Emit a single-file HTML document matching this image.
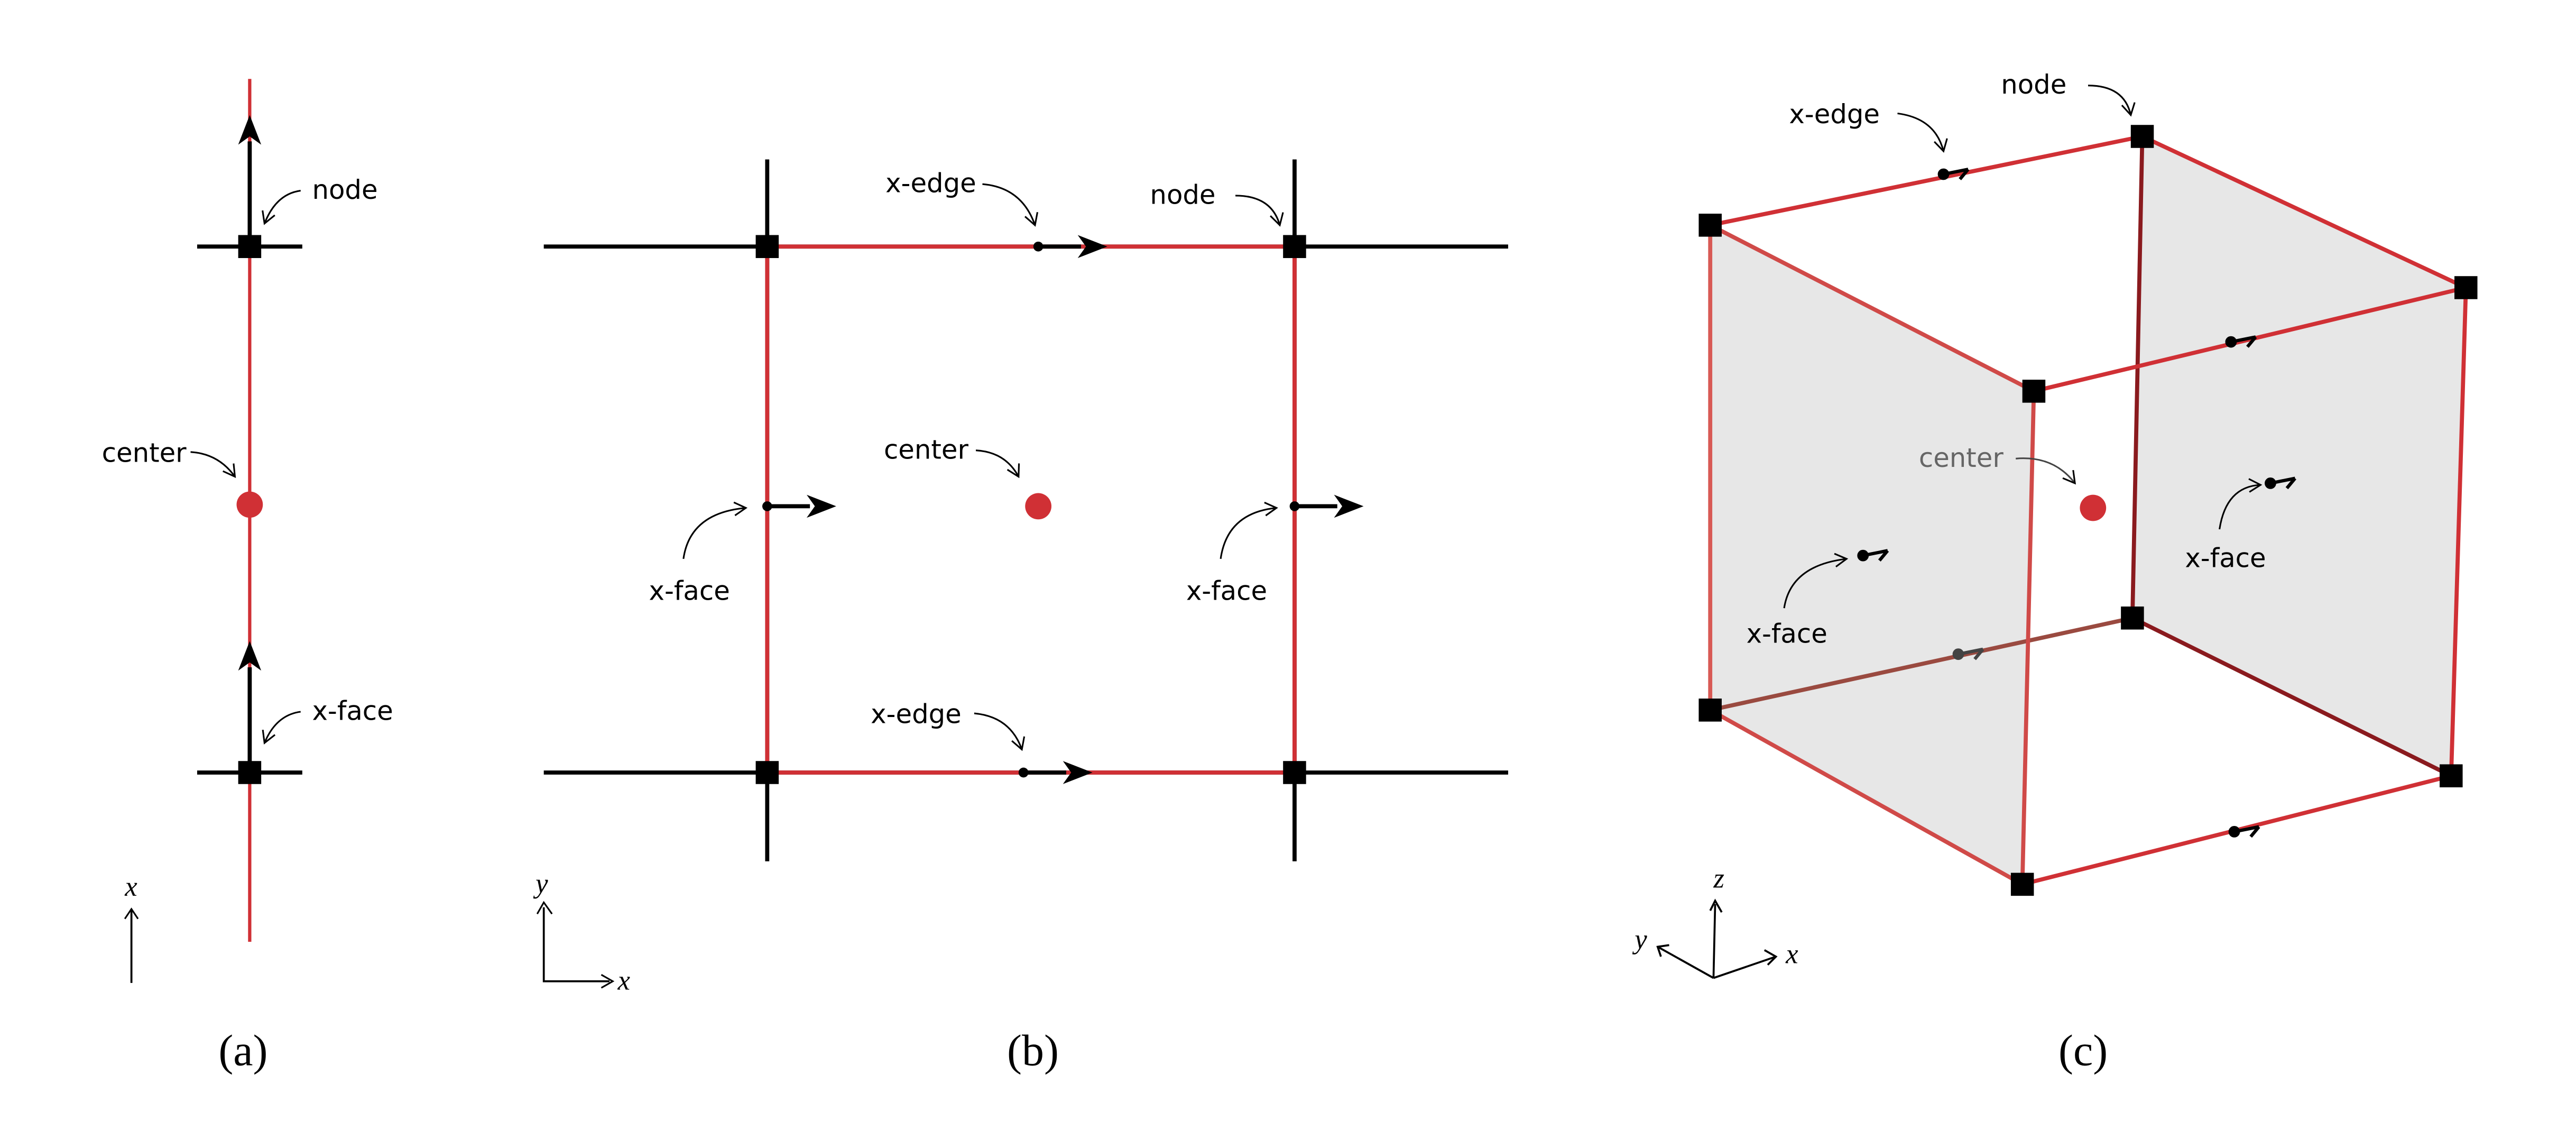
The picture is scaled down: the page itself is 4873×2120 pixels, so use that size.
<!DOCTYPE html>
<html><head><meta charset="utf-8"><style>
html,body{margin:0;padding:0;background:#fff}
svg{display:block}
text{font-family:"DejaVu Sans","Liberation Sans",sans-serif;font-size:16px;fill:#000}
.ser{font-family:"Liberation Serif",serif;font-size:27px}
.it{font-family:"Liberation Serif",serif;font-style:italic;font-size:17px}
</style></head><body>
<svg width="4873" height="2120" viewBox="0 0 1568 682" preserveAspectRatio="none">
<defs>
<marker id="oa" markerWidth="10" markerHeight="10" refX="8" refY="5" orient="auto" markerUnits="userSpaceOnUse"><path d="M1,1 L8,5 L1,9" fill="none" stroke="#000" stroke-width="1"/></marker>
<marker id="fa" markerWidth="20" markerHeight="14" refX="2" refY="7" orient="auto" markerUnits="userSpaceOnUse"><path d="M0,0 L18,7 L0,14 L5,7 Z" fill="#000"/></marker>
<marker id="sa" markerWidth="10" markerHeight="10" refX="8" refY="5" orient="auto" markerUnits="userSpaceOnUse"><path d="M2,1 L8,5 L2,9" fill="none" stroke="#000" stroke-width="1"/></marker>
</defs>

<g>
<line x1="152" y1="48" x2="152" y2="573" stroke="#d03035" stroke-width="2"/>
<line x1="120" y1="150" x2="184" y2="150" stroke="#000" stroke-width="2.5"/>
<line x1="120" y1="470" x2="184" y2="470" stroke="#000" stroke-width="2.5"/>
<line x1="152" y1="150" x2="152" y2="86" stroke="#000" stroke-width="2.5" marker-end="url(#fa)"/>
<line x1="152" y1="470" x2="152" y2="406" stroke="#000" stroke-width="2.5" marker-end="url(#fa)"/>
<rect x="145" y="143" width="14" height="14" fill="#000"/>
<rect x="145" y="463" width="14" height="14" fill="#000"/>
<circle cx="152" cy="307" r="8" fill="#d03035"/>
<text x="190" y="121">node</text>
<path d="M183,116 Q168,118 161,136" fill="none" stroke="#000" stroke-width="1" marker-end="url(#oa)"/>
<text x="62" y="281">center</text>
<path d="M116,275 Q133,276 143,290" fill="none" stroke="#000" stroke-width="1" marker-end="url(#oa)"/>
<text x="190" y="438">x-face</text>
<path d="M183,433 Q168,435 161,452" fill="none" stroke="#000" stroke-width="1" marker-end="url(#oa)"/>
<line x1="80" y1="598" x2="80" y2="553" stroke="#000" stroke-width="1.2" marker-end="url(#sa)"/>
<text class="it" x="76" y="545">x</text>
<text class="ser" x="133" y="648">(a)</text>
</g>

<g>
<line x1="331" y1="150" x2="918" y2="150" stroke="#000" stroke-width="2.5"/>
<line x1="331" y1="470" x2="918" y2="470" stroke="#000" stroke-width="2.5"/>
<line x1="467" y1="97" x2="467" y2="524" stroke="#000" stroke-width="2.5"/>
<line x1="788" y1="97" x2="788" y2="524" stroke="#000" stroke-width="2.5"/>
<rect x="467" y="150" width="321" height="320" fill="none" stroke="#d03035" stroke-width="2.5"/>
<line x1="632" y1="150" x2="658" y2="150" stroke="#000" stroke-width="2.5" marker-end="url(#fa)"/>
<circle cx="632" cy="150" r="3" fill="#000"/>
<line x1="623" y1="470" x2="649" y2="470" stroke="#000" stroke-width="2.5" marker-end="url(#fa)"/>
<circle cx="623" cy="470" r="3" fill="#000"/>
<line x1="467" y1="308" x2="493" y2="308" stroke="#000" stroke-width="2.5" marker-end="url(#fa)"/>
<circle cx="467" cy="308" r="3" fill="#000"/>
<line x1="788" y1="308" x2="814" y2="308" stroke="#000" stroke-width="2.5" marker-end="url(#fa)"/>
<circle cx="788" cy="308" r="3" fill="#000"/>
<g fill="#000"><rect x="460" y="143" width="14" height="14"/><rect x="781" y="143" width="14" height="14"/><rect x="460" y="463" width="14" height="14"/><rect x="781" y="463" width="14" height="14"/></g>
<circle cx="632" cy="308" r="8" fill="#d03035"/>
<text x="539" y="117">x-edge</text>
<path d="M598,112 Q622,114 630,137" fill="none" stroke="#000" stroke-width="1" marker-end="url(#oa)"/>
<text x="700" y="124">node</text>
<path d="M752,119 Q774,119 779,137" fill="none" stroke="#000" stroke-width="1" marker-end="url(#oa)"/>
<text x="538" y="279">center</text>
<path d="M594,274 Q612,275 620,290" fill="none" stroke="#000" stroke-width="1" marker-end="url(#oa)"/>
<text x="395" y="365">x-face</text>
<path d="M416,340 Q420,312 454,309" fill="none" stroke="#000" stroke-width="1" marker-end="url(#oa)"/>
<text x="722" y="365">x-face</text>
<path d="M743,340 Q747,312 777,309" fill="none" stroke="#000" stroke-width="1" marker-end="url(#oa)"/>
<text x="530" y="440">x-edge</text>
<path d="M593,434 Q615,436 622,456" fill="none" stroke="#000" stroke-width="1" marker-end="url(#oa)"/>
<polyline points="331,552 331,597 371,597" fill="none" stroke="#000" stroke-width="1.2"/>
<path d="M327,556 L331,549 L336,556" fill="none" stroke="#000" stroke-width="1"/>
<path d="M366,593 L373,597 L366,601" fill="none" stroke="#000" stroke-width="1"/>
<text class="it" x="326" y="543">y</text>
<text class="it" x="376" y="602">x</text>
<text class="ser" x="613" y="648">(b)</text>
</g>

<g>
<polygon points="1041,137 1238,238 1231,538 1041,432" fill="#e7e7e7"/>
<polygon points="1304,83 1501,175 1492,472 1298,376" fill="#e7e7e7"/>
<g stroke-width="2.5" fill="none">
<line x1="1041" y1="432" x2="1298" y2="376" stroke="#9a4a40"/>
<line x1="1298" y1="376" x2="1492" y2="472" stroke="#8a1a1e"/>
<line x1="1304" y1="83" x2="1298" y2="376" stroke="#8a1a1e"/>
<line x1="1041" y1="137" x2="1041" y2="432" stroke="#d85a55"/>
<line x1="1041" y1="137" x2="1238" y2="238" stroke="#d04a48"/>
<line x1="1041" y1="432" x2="1231" y2="538" stroke="#d04a48"/>
<line x1="1238" y1="238" x2="1231" y2="538" stroke="#d04a48"/>
<line x1="1041" y1="137" x2="1304" y2="83" stroke="#d03035"/>
<line x1="1304" y1="83" x2="1501" y2="175" stroke="#d03035"/>
<line x1="1238" y1="238" x2="1501" y2="175" stroke="#d03035"/>
<line x1="1501" y1="175" x2="1492" y2="472" stroke="#d03035"/>
<line x1="1231" y1="538" x2="1492" y2="472" stroke="#d03035"/>
</g>
<g fill="#000">
<rect x="1034" y="130" width="14" height="14"/><rect x="1297" y="76" width="14" height="14"/><rect x="1494" y="168" width="14" height="14"/><rect x="1231" y="231" width="14" height="14"/>
<rect x="1034" y="425" width="14" height="14"/><rect x="1291" y="369" width="14" height="14"/><rect x="1485" y="465" width="14" height="14"/><rect x="1224" y="531" width="14" height="14"/>
</g>
<g stroke="#000" stroke-width="2" fill="none">
<circle cx="1183" cy="106" r="2.5" fill="#000"/><path d="M1183,106 L1198,103 M1193,109 L1198,103"/>
<circle cx="1358" cy="208" r="2.5" fill="#000"/><path d="M1358,208 L1373,205 M1368,211 L1373,205"/>
<circle cx="1360" cy="506" r="2.5" fill="#000"/><path d="M1360,506 L1375,503 M1370,509 L1375,503"/>
<circle cx="1192" cy="398" r="2.5" fill="#444" stroke="#444"/><path d="M1192,398 L1207,395 M1202,401 L1207,395" stroke="#444"/>
<circle cx="1134" cy="338" r="2.5" fill="#000"/><path d="M1134,338 L1149,335 M1144,341 L1149,335"/>
<circle cx="1382" cy="294" r="2.5" fill="#000"/><path d="M1382,294 L1397,291 M1392,297 L1397,291"/>
</g>
<circle cx="1274" cy="309" r="8" fill="#d03035"/>
<text x="1089" y="75">x-edge</text>
<path d="M1155,69 Q1178,72 1183,92" fill="none" stroke="#000" stroke-width="1" marker-end="url(#oa)"/>
<text x="1218" y="57">node</text>
<path d="M1271,52 Q1293,52 1297,70" fill="none" stroke="#000" stroke-width="1" marker-end="url(#oa)"/>
<text x="1168" y="284" fill="#666" style="fill:#666">center</text>
<path d="M1227,279 Q1250,277 1263,294" fill="none" stroke="#444" stroke-width="1" marker-end="url(#oa)"/>
<text x="1063" y="391">x-face</text>
<path d="M1086,370 Q1090,344 1124,340" fill="none" stroke="#000" stroke-width="1" marker-end="url(#oa)"/>
<text x="1330" y="345">x-face</text>
<path d="M1351,322 Q1355,296 1376,295" fill="none" stroke="#000" stroke-width="1" marker-end="url(#oa)"/>
<g stroke="#000" stroke-width="1.2" fill="none">
<line x1="1043" y1="595" x2="1044" y2="550"/><path d="M1041,554 L1044,548 L1048,555"/>
<line x1="1043" y1="595" x2="1081" y2="582"/><path d="M1074,578 L1081,582 L1076,587"/>
<line x1="1043" y1="595" x2="1009" y2="576"/><path d="M1011,582 L1009,576 L1016,575"/>
</g>
<text class="it" x="1043" y="540">z</text>
<text class="it" x="1087" y="586">x</text>
<text class="it" x="995" y="577">y</text>
<text class="ser" x="1253" y="648">(c)</text>
</g>
</svg>
</body></html>
